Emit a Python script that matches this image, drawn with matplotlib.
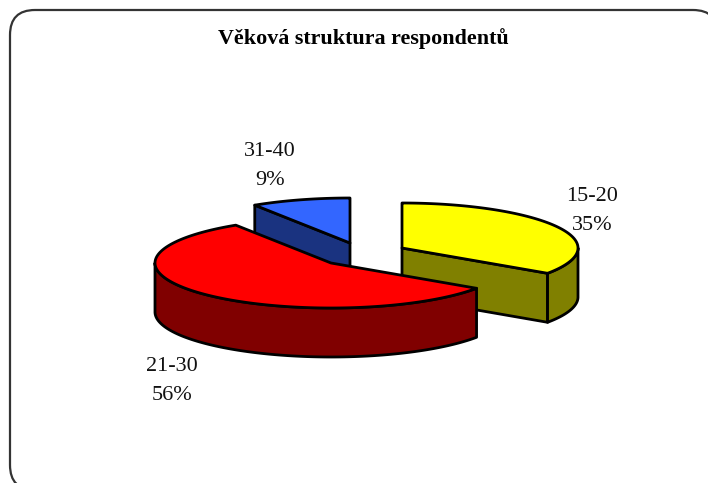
import numpy as np
import matplotlib
matplotlib.use("Agg")
import matplotlib.pyplot as plt
from matplotlib.patches import Polygon, FancyBboxPatch

# --- data ---
title = "Věková struktura respondentů"
categories = ["15-20", "21-30", "31-40"]
values = [34.5, 56.4, 9.1]
percent_labels = ["35%", "56%", "9%"]

# --- styling / layout ---
top_colors = ["#FFFF00", "#FF0000", "#3366FF"]
side_colors = ["#808000", "#800000", "#1A3380"]
centers = [(402, 248), (331, 263), (350, 243)]   # exploded slice centres, px
label_pos = [(592, 211), (172, 381), (270, 166)]
RX, RY, DEPTH = 176, 45, 49
LW = 2.0
plt.rcParams["font.family"] = ["Liberation Serif", "DejaVu Serif"]

fig = plt.figure(figsize=(7.08, 4.83), dpi=100)
ax = fig.add_axes([0, 0, 1, 1])
ax.set_xlim(0, 708)
ax.set_ylim(483, 0)
ax.axis("off")

ax.add_patch(FancyBboxPatch((10, 10), 708, 480,
                            boxstyle="round,pad=0,rounding_size=25",
                            fc="white", ec="#333333", lw=1.6, clip_on=True))


def rim(c, a0, a1, dy=0):
    t = np.radians(np.linspace(a0, a1, 200))
    return np.column_stack([c[0] + RX * np.sin(t), c[1] - RY * np.cos(t) + dy])


def poly(pts, color, z):
    ax.add_patch(Polygon(pts, closed=True, fc=color, ec="black", lw=LW,
                         joinstyle="round", zorder=z))


edges = np.concatenate([[0], np.cumsum(values)]) * 3.6
order = [2, 0, 1]  # back to front
for rank, i in enumerate(order):
    z = 2 + rank
    c, a0, a1 = centers[i], edges[i], edges[i + 1]
    # cut faces, visible where the cut looks towards the viewer
    for a, visible in ((a0, 180 < a0 < 360), (a1, 0 < a1 < 180)):
        if visible:
            p = rim(c, a, a, 0)[0]
            face = [c, p, (p[0], p[1] + DEPTH), (c[0], c[1] + DEPTH)]
            poly(face, side_colors[i], z)
    # outer wall: the part of the rim on the front half
    w0, w1 = max(a0, 90), min(a1, 270)
    if w1 > w0:
        wall = np.vstack([rim(c, w0, w1), rim(c, w1, w0, DEPTH)])
        poly(wall, side_colors[i], z)
    # top
    poly(np.vstack([[c], rim(c, a0, a1)]), top_colors[i], z + 0.5)

ax.text(363, 39, title, ha="center", va="center", fontsize=15.8,
        fontweight="bold", color="black")
for cat, pct, (x, y) in zip(categories, percent_labels, label_pos):
    ax.text(x, y, f"{cat}\n{pct}", ha="center", va="center", fontsize=16,
            linespacing=1.67, color="#111111", zorder=10)

fig.savefig("out.png", dpi=100)
